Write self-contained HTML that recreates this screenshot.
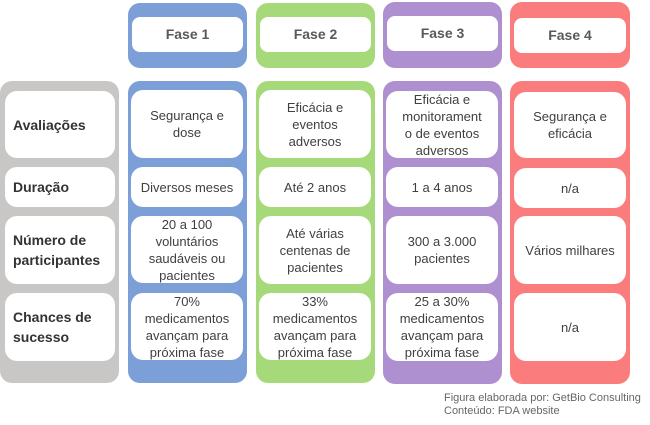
<!DOCTYPE html>
<html><head><meta charset="utf-8"><style>
body{margin:0;width:650px;height:425px;background:#fff;position:relative;overflow:hidden;font-family:"Liberation Sans",sans-serif;}
.c{position:absolute;border-radius:12px;}
.w{position:absolute;background:#fff;border-radius:12px;display:flex;align-items:center;justify-content:center;text-align:center;color:#404040;font-size:13px;line-height:17px;}
.h{font-weight:bold;font-size:14px;color:#595959;border-radius:8px;}
.l{justify-content:flex-start;text-align:left;padding-left:8px;font-weight:bold;font-size:14px;line-height:20px;color:#333;box-sizing:border-box;}
.f{position:absolute;left:444px;font-size:11px;color:#666;}
</style></head><body>
<div class="c" style="left:128px;top:3px;width:119px;height:65px;background:#7b9fd6"></div>
<div class="c" style="left:256px;top:3px;width:119px;height:65px;background:#a6d97a"></div>
<div class="c" style="left:383px;top:2px;width:119px;height:66px;background:#ae8fcf"></div>
<div class="c" style="left:510px;top:2px;width:120px;height:66px;background:#fa7c7c"></div>
<div class="w h" style="left:132px;top:17px;width:111px;height:35px">Fase 1</div>
<div class="w h" style="left:260px;top:17px;width:111px;height:35px">Fase 2</div>
<div class="w h" style="left:387px;top:16px;width:111px;height:35px">Fase 3</div>
<div class="w h" style="left:514px;top:18px;width:112px;height:35px">Fase 4</div>

<div class="c" style="left:0;top:81px;width:119px;height:302px;background:#c9c6c6"></div>
<div class="c" style="left:128px;top:81px;width:119px;height:302px;background:#7b9fd6"></div>
<div class="c" style="left:256px;top:81px;width:119px;height:302px;background:#a6d97a"></div>
<div class="c" style="left:383px;top:81px;width:119px;height:303px;background:#ae8fcf"></div>
<div class="c" style="left:510px;top:81px;width:120px;height:303px;background:#fa7c7c"></div>

<div class="w l" style="left:5px;top:91px;width:110px;height:67px">Avaliações</div>
<div class="w l" style="left:5px;top:167px;width:110px;height:40px">Duração</div>
<div class="w l" style="left:5px;top:216px;width:110px;height:68px">Número de<br>participantes</div>
<div class="w l" style="left:5px;top:293px;width:110px;height:68px">Chances de<br>sucesso</div>

<div class="w" style="left:131px;top:90px;width:112px;height:68px">Segurança e<br>dose</div>
<div class="w" style="left:131px;top:167px;width:112px;height:40px">Diversos meses</div>
<div class="w" style="left:131px;top:216px;width:112px;height:67px">20 a 100<br>voluntários<br>saudáveis ou<br>pacientes</div>
<div class="w" style="left:131px;top:293px;width:112px;height:67px">70%<br>medicamentos<br>avançam para<br>próxima fase</div>

<div class="w" style="left:259px;top:90px;width:112px;height:68px">Eficácia e<br>eventos<br>adversos</div>
<div class="w" style="left:259px;top:167px;width:112px;height:40px">Até 2 anos</div>
<div class="w" style="left:259px;top:216px;width:112px;height:68px">Até várias<br>centenas de<br>pacientes</div>
<div class="w" style="left:259px;top:293px;width:112px;height:67px">33%<br>medicamentos<br>avançam para<br>próxima fase</div>

<div class="w" style="left:386px;top:91px;width:112px;height:67px">Eficácia e<br>monitorament<br>o de eventos<br>adversos</div>
<div class="w" style="left:386px;top:167px;width:112px;height:40px">1 a 4 anos</div>
<div class="w" style="left:386px;top:216px;width:112px;height:68px">300 a 3.000<br>pacientes</div>
<div class="w" style="left:386px;top:293px;width:112px;height:68px">25 a 30%<br>medicamentos<br>avançam para<br>próxima fase</div>

<div class="w" style="left:514px;top:92px;width:112px;height:66px">Segurança e<br>eficácia</div>
<div class="w" style="left:514px;top:168px;width:112px;height:40px">n/a</div>
<div class="w" style="left:514px;top:216px;width:112px;height:68px">Vários milhares</div>
<div class="w" style="left:514px;top:293px;width:112px;height:68px">n/a</div>

<div class="f" style="top:392px">Figura elaborada por: GetBio Consulting</div>
<div class="f" style="top:405px">Conteúdo: FDA website</div>
</body></html>
